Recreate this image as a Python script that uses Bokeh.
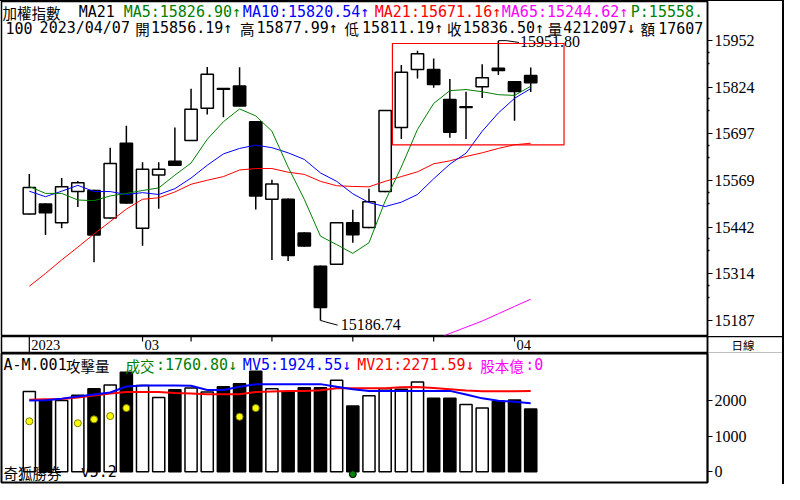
from bokeh.plotting import figure
from bokeh.layouts import column
from bokeh.models import Range1d, FixedTicker, BoxAnnotation, ColumnDataSource
from bokeh.core.properties import value
from bokeh.embed import file_html
from bokeh.resources import INLINE

# ---------------- data ----------------
days = list(range(32))
opens  = [15478, 15505, 15454, 15539, 15542, 15467, 15671, 15439, 15584, 15622,
          15679, 15767, 15821, 15828, 15730, 15518, 15518, 15426, 15335, 15340,
          15454, 15441, 15539, 15714, 15873, 15873, 15791, 15769, 15826, 15876,
          15839, 15856.19]
highs  = [15587, 15507, 15576, 15568, 15544, 15659, 15719, 15619, 15619, 15714,
          15820, 15880, 15822, 15879, 15731, 15571, 15520, 15428, 15337, 15456,
          15489, 15547, 15762, 15885, 15924, 15903, 15847, 15812, 15887, 15951.80,
          15841, 15877.99]
lows   = [15476, 15420, 15439, 15497, 15346, 15465, 15506, 15391, 15492, 15610,
          15677, 15750, 15742, 15772, 15490, 15352, 15349, 15388, 15186.74, 15338,
          15399, 15439, 15537, 15683, 15848, 15823, 15686, 15683, 15795, 15858,
          15733, 15811.19]
closes = [15550, 15481, 15552, 15563, 15420, 15616, 15508, 15600, 15600, 15611,
          15764, 15860, 15819, 15773, 15527, 15560, 15364, 15390, 15222, 15454,
          15421, 15511, 15761, 15865, 15916, 15832, 15701, 15771, 15850, 15870,
          15813, 15836.50]
ma5  = [15553, 15534, 15534, 15516, 15514, 15527, 15534, 15542, 15549, 15584,
        15617, 15682, 15730, 15765, 15746, 15704, 15606, 15518, 15417, 15394,
        15370, 15399, 15513, 15606, 15709, 15780, 15815, 15818, 15812, 15804,
        15802, 15826.90]
ma10 = [15540, 15525, 15540, 15556, 15539, 15539, 15531, 15536, 15531, 15547,
        15576, 15611, 15642, 15657, 15666, 15659, 15645, 15627, 15590, 15567,
        15533, 15509, 15498, 15510, 15531, 15574, 15614, 15644, 15704, 15754,
        15794, 15820.54]
ma21 = [15280, 15315, 15352, 15387, 15423, 15457, 15491, 15518, 15522, 15538,
        15559, 15570, 15580, 15598, 15602, 15602, 15592, 15586, 15567, 15555,
        15553, 15552, 15567, 15580, 15593, 15615, 15623, 15635, 15645, 15657,
        15667, 15671.16]
ma65_start = 25
ma65 = [15132, 15151, 15168, 15185, 15205, 15225, 15244.62]

volume = [2254, 2000, 2000, 2153, 2335, 2436, 2799, 2425, 2090, 2308,
          2354, 2245, 2390, 2472, 2826, 2335, 2245, 2363, 2363, 2572,
          1845, 2136, 2335, 2316, 2526, 2063, 2063, 1891, 1790, 1973,
          2016, 1760.80]
mv5  = [2000, 2008, 2055, 2117, 2172, 2226, 2395, 2425, 2425, 2425,
        2417, 2300, 2300, 2390, 2458, 2463, 2463, 2463, 2463, 2390,
        2316, 2273, 2273, 2273, 2273, 2273, 2273, 2172, 2063, 1995,
        1967, 1924.55]
mv21 = [2027, 2036, 2044, 2090, 2145, 2199, 2245, 2245, 2240, 2213,
        2199, 2180, 2180, 2180, 2240, 2254, 2267, 2273, 2294, 2344,
        2344, 2344, 2349, 2376, 2382, 2354, 2322, 2281, 2262, 2262,
        2262, 2271.59]
buy_days = [0, 3, 4, 5, 6, 13, 14]
buy_vals = [1417, 1363, 1472, 1564, 1790, 1545, 1790]
sell_days = [20]
sell_vals = [-70]

date_label_days = [0, 7, 30]
date_labels = ["2023", "03", "04"]
date_tick_days = [7, 10, 15, 20, 25, 30]
year_tick_days = [0]
period_label = "日線"
price_ticks = [15187, 15314, 15442, 15569, 15697, 15824, 15952]
vol_ticks = [0, 1000, 2000]
box_days = (22.45, 33.06)
box_prices = (15666.6, 15944.0)

# ---------------- styling / layout ----------------
GREEN, BLUE, RED, MAGENTA = "#008000", "#0000ff", "#ff0000", "#ff00ff"
ASC_FONT = "DejaVu Sans Mono"
CJK_FONT = "Noto Sans CJK TC"
AX_FONT = "Liberation Serif"
FONTS = {"asc": (ASC_FONT, "15px"), "cjk": (CJK_FONT, "14.5px")}

W, AXW = 782, 75
PH, DH, VH = 335, 17, 131
FW = W - 1 - AXW
X0, X1 = -1.72, 41.93
PY0, PY1 = 15145.4, 16058.8
PFH = PH - 1
VY0, VY1 = -305, 3325
VFH = VH - 2
KX = FW / 722.5


def x_at(xr):
    """data x for a left edge measured in the reference picture"""
    return X0 + (xr - 1) * KX / FW * (X1 - X0)


def py_at(t):
    """price value t pixels below the top of the price frame"""
    return PY1 - t / PFH * (PY1 - PY0)


def vy_at(t):
    """volume value t pixels below the top of the volume frame"""
    return VY1 - t / VFH * (VY1 - VY0)


def put(fig, items, y):
    for text, xr, color, kind in items:
        font, size = FONTS[kind]
        fig.text(x=[x_at(xr)], y=[y], text=[text], text_color=color,
                 text_font=value(font), text_font_size=size,
                 text_align="left", text_baseline="middle")


def base_fig(height, x_range, y_range, **kw):
    f = figure(width=W, height=height, output_backend="svg", toolbar_location=None,
               title=None, x_range=x_range, y_range=y_range,
               x_axis_location=None, y_axis_location="right",
               min_border_left=1, min_border_right=AXW, **kw)
    f.grid.visible = False
    f.outline_line_color = "black"
    f.outline_line_width = 1.5
    f.background_fill_color = "white"
    f.border_fill_color = "white"
    ax = f.yaxis[0]
    ax.axis_line_width = 1.5
    ax.major_tick_out, ax.major_tick_in = 5, 0
    ax.minor_tick_out, ax.minor_tick_in = 2, 0
    ax.major_tick_line_width = 1.2
    ax.minor_tick_line_width = 1.5
    ax.major_label_standoff = 2
    ax.major_label_text_font = AX_FONT
    ax.major_label_text_font_size = "16px"
    ax.major_label_text_color = "black"
    return f


up = [c >= o for o, c in zip(opens, closes)]
src = ColumnDataSource(dict(
    x=days, high=highs, low=lows,
    top=[max(o, c) for o, c in zip(opens, closes)],
    bottom=[min(o, c) for o, c in zip(opens, closes)],
    fill=["white" if u else "black" for u in up],
    vol=volume,
))

# ---------------- price panel ----------------
p = base_fig(PH, Range1d(X0, X1), Range1d(PY0, PY1), min_border_top=0, min_border_bottom=1)
minor_p = []
for a, b in zip(price_ticks[:-1], price_ticks[1:]):
    minor_p += [a + (b - a) * 0.5, a + (b - a) * 0.75]
p.yaxis[0].ticker = FixedTicker(ticks=price_ticks, minor_ticks=minor_p)

p.segment(x0="x", y0="high", x1="x", y1="low", source=src, color="black", line_width=1.5)
p.vbar(x="x", top="top", bottom="bottom", width=0.76, fill_color="fill",
       line_color="black", line_width=1.5, source=src)

p.line(days, ma21, color=RED, line_width=1)
p.line(days, ma10, color=BLUE, line_width=1)
p.line(days, ma5, color=GREEN, line_width=1)
p.line(days[ma65_start:ma65_start + len(ma65)], ma65, color=MAGENTA, line_width=1)

p.add_layout(BoxAnnotation(left=box_days[0], right=box_days[1], bottom=box_prices[0],
                           top=box_prices[1], fill_alpha=0, line_color=RED,
                           line_width=1.2, line_alpha=1))

hi_i = max(days, key=lambda i: highs[i])
lo_i = min(days, key=lambda i: lows[i])
hi, lo = highs[hi_i], lows[lo_i]
p.line([hi_i, hi_i + 0.48, hi_i + 1.27], [hi, hi, hi - 5], color="black", line_width=1)
p.line([lo_i, lo_i + 0.34, lo_i + 1.06], [lo, lo - 4.5, lo - 13], color="black", line_width=1)
p.text(x=[hi_i + 1.33], y=[hi - 3], text=[f"{hi:.2f}"], text_font=value(AX_FONT),
       text_font_size="16px", text_baseline="middle", text_color="black")
p.text(x=[lo_i + 1.25], y=[lo - 11], text=[f"{lo:.2f}"], text_font=value(AX_FONT),
       text_font_size="16px", text_baseline="middle", text_color="black")

hdr1 = [("加權指數", 2, "black", "cjk"),
        ("MA21", 80, "black", "asc"),
        (f"MA5:{ma5[-1]:.2f}↑", 126, GREEN, "asc"),
        (f"MA10:{ma10[-1]:.2f}↑", 248, BLUE, "asc"),
        (f"MA21:{ma21[-1]:.2f}↑", 383, RED, "asc"),
        (f"MA65:{ma65[-1]:.2f}↑", 513, MAGENTA, "asc"),
        ("P:15558.", 645, GREEN, "asc")]
put(p, hdr1, py_at(10.5))
hdr2 = [("100", 5, "black", "asc"), ("2023/04/07", 40, "black", "asc"),
        ("開", 138, "black", "cjk"), (f"{opens[-1]:.2f}↑", 154, "black", "asc"),
        ("高", 245, "black", "cjk"), (f"{highs[-1]:.2f}↑", 262, "black", "asc"),
        ("低", 352, "black", "cjk"), (f"{lows[-1]:.2f}↑", 370, "black", "asc"),
        ("收", 457, "black", "cjk"), (f"{closes[-1]:.2f}↑", 473, "black", "asc"),
        ("量", 560, "black", "cjk"), ("4212097↓", 576, "black", "asc"),
        ("額", 655, "black", "cjk"), ("17607", 673, "black", "asc")]
put(p, hdr2, py_at(26.5))

# ---------------- date row ----------------
d = base_fig(DH, p.x_range, Range1d(0, DH), min_border_top=0, min_border_bottom=0)
dax = d.yaxis[0]
dax.ticker = FixedTicker(ticks=[DH / 2], minor_ticks=[0.4, DH - 0.4])
dax.major_tick_out = 0
dax.minor_tick_out = AXW
dax.minor_tick_line_width = 1.5
dax.major_label_overrides = {DH / 2: period_label}
dax.major_label_text_font = CJK_FONT
dax.major_label_text_font_size = "11.5px"
dax.major_label_standoff = 24 - AXW

d.segment(x0=date_tick_days, y0=[DH] * len(date_tick_days), x1=date_tick_days,
          y1=[DH - 5] * len(date_tick_days), color="black", line_width=1.2)
d.segment(x0=year_tick_days, y0=[DH], x1=year_tick_days, y1=[0], color="black", line_width=1.2)
d.text(x=date_label_days, y=[DH / 2] * len(date_labels), text=date_labels, x_offset=2,
       text_font=value(AX_FONT), text_font_size="14.5px", text_baseline="middle",
       text_color="black")

# ---------------- volume panel ----------------
v = base_fig(VH, p.x_range, Range1d(VY0, VY1), min_border_top=0, min_border_bottom=2)
v.outline_line_width = 2
v.yaxis[0].ticker = FixedTicker(ticks=vol_ticks)
v.yaxis[0].minor_tick_line_color = None

v.vbar(x="x", top="vol", bottom=0, width=0.75, fill_color="fill", line_color="black",
       line_width=1.5, source=src)
v.line(days, mv21, color=RED, line_width=2)
v.line(days, mv5, color=BLUE, line_width=2)
v.scatter(buy_days, buy_vals, size=7, fill_color="#ffff00", line_color="#808000")
v.scatter(sell_days, sell_vals, size=7, fill_color=GREEN, line_color="black")

hdrv = [("A-M.001", 3, "black", "asc"), ("攻擊量", 67, "black", "cjk"),
        ("成交", 128, GREEN, "cjk"), (f":{volume[-1]:.2f}↓", 159, GREEN, "asc"),
        (f"MV5:{mv5[-1]:.2f}↓", 248, BLUE, "asc"),
        (f"MV21:{mv21[-1]:.2f}↓", 365, RED, "asc"),
        ("股本億", 491, MAGENTA, "cjk"), (":0", 537, MAGENTA, "asc")]
put(v, hdrv, vy_at(11.5))
put(v, [("奇狐勝券", 3, "black", "cjk"), ("v5.2", 82, "black", "asc")], vy_at(118.5))

layout = column(p, d, v, spacing=0,
                styles={"border-top": "1px solid black", "border-right": "2px solid black"})
open("out.html", "w").write(file_html(layout, INLINE))
